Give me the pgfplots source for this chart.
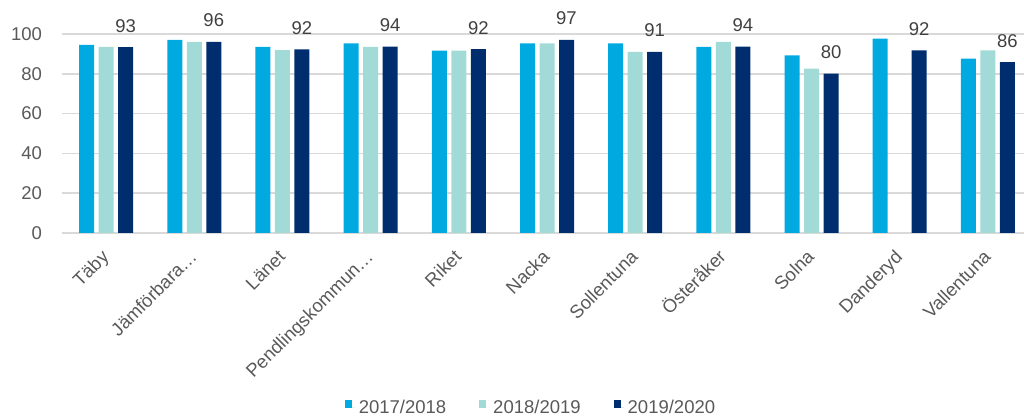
\documentclass[border=0pt]{standalone}
\usepackage{fontspec}
\setmainfont{Liberation Sans}
\usepackage{pgfplots}
\pgfplotsset{compat=1.18}
\definecolor{cA}{HTML}{00A9E0}
\definecolor{cB}{HTML}{A2DAD8}
\definecolor{cC}{HTML}{002D6E}
\definecolor{gridc}{HTML}{D9D9D9}
\definecolor{tickc}{HTML}{595959}
\definecolor{labc}{HTML}{404040}
\newcommand{\chartfont}{\fontsize{9.25}{11}\selectfont}
\begin{document}
\begin{tikzpicture}
\useasboundingbox (-31pt,-91.5pt) rectangle (481pt,116.5pt);
\begin{axis}[
  at={(0,0)}, anchor=south west,
  scale only axis, width=485pt, height=99.5pt,
  xmin=-0.5, xmax=10.5, ymin=0, ymax=100,
  ytick={0,20,...,100},
  xtick={0,...,10},
  xticklabels={Täby, Jämförbara…, Länet, Pendlingskommun…, Riket, Nacka, Sollentuna, Österåker, Solna, Danderyd, Vallentuna},
  axis line style={draw=none},
  ymajorgrids, grid style={gridc, line width=0.75pt},
  major tick length=0pt,
  tick label style={font=\chartfont, text=tickc},
  yticklabel style={xshift=-6.5pt},
  xticklabel style={xshift=2pt, yshift=-12.5pt, rotate=45, anchor=base east, inner sep=0pt},
  /pgf/number format/assume math mode=true,
  ybar, bar width=7.5pt,
  legend columns=3,
  legend style={at={(0.4845,-0.879)}, anchor=center, draw=none, fill=none,
    font=\chartfont, text=tickc, inner sep=0pt,
    /tikz/every even column/.append style={column sep=14.5pt}},
  legend image code/.code={\fill[#1] (0pt,0pt) rectangle (3.5pt,4pt); \path (0pt,0pt) -- (5pt,0pt);},
]
\addplot[fill=cA, draw=none, bar shift=-9.75pt] coordinates {
  (0,94.5) (1,97.1) (2,93.5) (3,95.3) (4,91.6) (5,95.3) (6,95.3) (7,93.5) (8,89.3) (9,97.7) (10,87.6)};
\addlegendentry{2017/2018}
\addplot[fill=cB, draw=none, bar shift=0pt] coordinates {
  (0,93.5) (1,96.1) (2,91.9) (3,93.5) (4,91.6) (5,95.3) (6,91.0) (7,96.0) (8,82.6) (10,91.8)};
\addlegendentry{2018/2019}
\addplot[fill=cC, draw=none, bar shift=9.75pt,
  nodes near coords, point meta=explicit symbolic,
  every node near coord/.append style={font=\chartfont, text=labc, yshift=3.9pt}] coordinates {
  (0,93.4)[93] (1,96.1)[96] (2,92.3)[92] (3,93.6)[94] (4,92.4)[92] (5,97.0)[97] (6,91.0)[91] (7,93.6)[94] (8,80.1)[80] (9,91.8)[92] (10,85.9)[86]};
\addlegendentry{2019/2020}
\end{axis}
\end{tikzpicture}
\end{document}
